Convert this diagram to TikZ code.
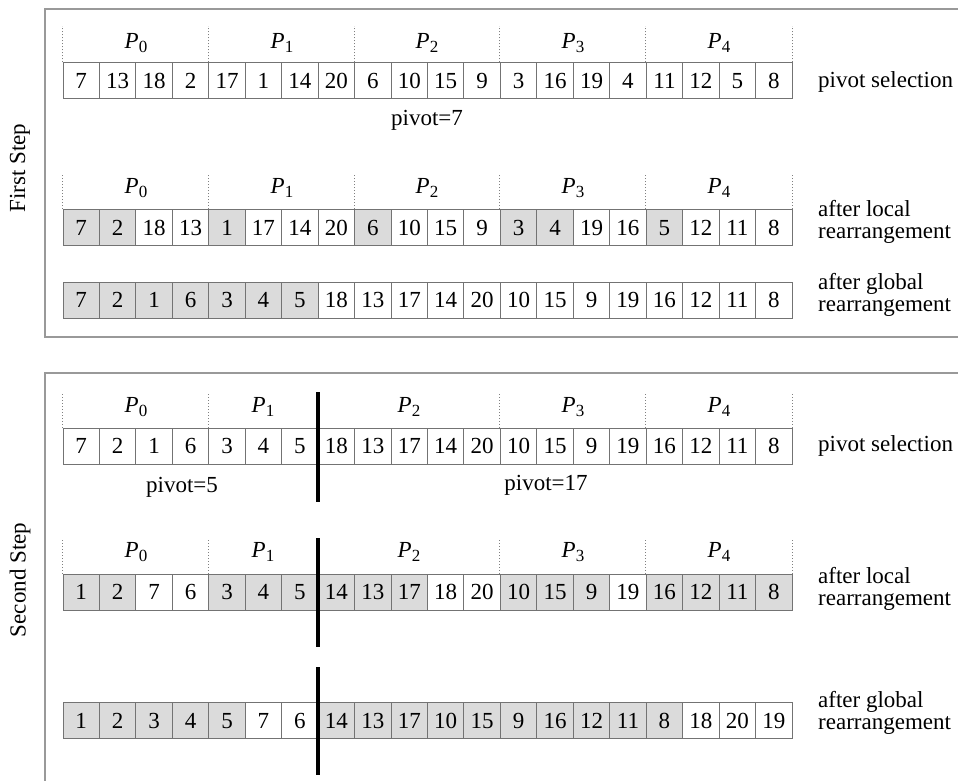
\documentclass[tikz,border=0pt]{standalone}
\usepackage{fontspec}
\setmainfont{Liberation Serif}
\colorlet{sh}{black!14}
\colorlet{cellline}{black!55}
\colorlet{framecol}{black!40}
\newcommand{\plab}[1]{\textit{P}\raisebox{-0.35ex}{\fontsize{17}{17}\selectfont #1}}
\begin{document}
\begin{tikzpicture}[x=1pt,y=-1pt,
  every node/.style={font=\fontsize{23}{20}\selectfont},
  cell/.style={draw=cellline,line width=1pt,minimum width=36.45pt,minimum height=36pt,inner sep=0pt,anchor=center,text height=15.5pt,text depth=0pt},
  frame/.style={draw=framecol,line width=2pt},
  sep/.style={draw=black!50,dotted,line width=1pt},
  cut/.style={draw=black,line width=3.6pt},
  side/.style={anchor=west,align=left,inner sep=0pt,font=\fontsize{23}{21.5}\selectfont},
  steplabel/.style={rotate=90,inner sep=0pt}]
\useasboundingbox (0,0) rectangle (958,781);
\clip (0,0) rectangle (958,781);
\fill[white] (0,0) rectangle (958,781);
% frames
\draw[frame] (45,9) rectangle (975,337);
\draw[frame] (45,373) rectangle (975,800);
\node[steplabel] (fs) at (20,168) {First Step};
\node[steplabel] (ss) at (20,580) {Second Step};
% ---------- rows ----------
% top row 1
\foreach \v/\s [count=\i from 0] in {7/white,13/white,18/white,2/white,17/white,1/white,14/white,20/white,6/white,10/white,15/white,9/white,3/white,16/white,19/white,4/white,11/white,12/white,5/white,8/white}{
  \pgfmathsetmacro\cx{63+36.45*(\i+0.5)}
  \node[cell,fill=\s] (ta-\i) at (\cx,81) {\v};}
% top row 2
\foreach \v/\s [count=\i from 0] in {7/sh,2/sh,18/white,13/white,1/sh,17/white,14/white,20/white,6/sh,10/white,15/white,9/white,3/sh,4/sh,19/white,16/white,5/sh,12/white,11/white,8/white}{
  \pgfmathsetmacro\cx{63+36.45*(\i+0.5)}
  \node[cell,fill=\s] (tb-\i) at (\cx,227.5) {\v};}
% top row 3
\foreach \v/\s [count=\i from 0] in {7/sh,2/sh,1/sh,6/sh,3/sh,4/sh,5/sh,18/white,13/white,17/white,14/white,20/white,10/white,15/white,9/white,19/white,16/white,12/white,11/white,8/white}{
  \pgfmathsetmacro\cx{63+36.45*(\i+0.5)}
  \node[cell,fill=\s] (tc-\i) at (\cx,300) {\v};}
% bottom row 1
\foreach \v/\s [count=\i from 0] in {7/white,2/white,1/white,6/white,3/white,4/white,5/white,18/white,13/white,17/white,14/white,20/white,10/white,15/white,9/white,19/white,16/white,12/white,11/white,8/white}{
  \pgfmathsetmacro\cx{63+36.45*(\i+0.5)}
  \node[cell,fill=\s] (ba-\i) at (\cx,446) {\v};}
% bottom row 2
\foreach \v/\s [count=\i from 0] in {1/sh,2/sh,7/white,6/white,3/sh,4/sh,5/sh,14/sh,13/sh,17/sh,18/white,20/white,10/sh,15/sh,9/sh,19/white,16/sh,12/sh,11/sh,8/sh}{
  \pgfmathsetmacro\cx{63+36.45*(\i+0.5)}
  \node[cell,fill=\s] (bb-\i) at (\cx,592) {\v};}
% bottom row 3
\foreach \v/\s [count=\i from 0] in {1/sh,2/sh,3/sh,4/sh,5/sh,7/white,6/white,14/sh,13/sh,17/sh,10/sh,15/sh,9/sh,16/sh,12/sh,11/sh,8/sh,18/white,20/white,19/white}{
  \pgfmathsetmacro\cx{63+36.45*(\i+0.5)}
  \node[cell,fill=\s] (bc-\i) at (\cx,720.5) {\v};}
% ---------- partition separators ----------
\foreach \r in {ta,tb}{
  \foreach \k in {0,4,8,12,16}{
    \draw[sep] (\r-\k.north west) -- ++(0,-36);}
  \draw[sep] (\r-19.north east) -- ++(0,-36);}
\foreach \r in {ba,bb}{
  \foreach \k in {0,4,12,16}{
    \draw[sep] (\r-\k.north west) -- ++(0,-35);}
  \draw[sep] (\r-19.north east) -- ++(0,-35);}
% ---------- processor labels ----------
\foreach \r/\y in {ta/43,tb/188}{
  \foreach \p/\x in {0/136,1/282,2/427,3/573,4/719}{
    \node (\r-p\p) at (\x,\y) {\plab{\p}};}}
\foreach \r/\y in {ba/407,bb/552}{
  \foreach \p/\x in {0/136,1/263,2/409,3/573,4/719}{
    \node (\r-p\p) at (\x,\y) {\plab{\p}};}}
% ---------- pivots ----------
\node (pv7) at (427,120) {pivot=7};
\node (pv5) at (182,487) {pivot=5};
\node (pv17) at (546,485) {pivot=17};
% ---------- side labels ----------
\node[side] (la) at (818,82) {pivot selection};
\node[side] (lb) at (818,222) {after local\\rearrangement};
\node[side] (lc) at (818,295) {after global\\rearrangement};
\node[side] (ld) at (818,446) {pivot selection};
\node[side] (le) at (818,589) {after local\\rearrangement};
\node[side] (lf) at (818,713) {after global\\rearrangement};
% ---------- split line ----------
\coordinate (s1a) at (318,392); \coordinate (s1b) at (318,502);
\coordinate (s2a) at (318,538); \coordinate (s2b) at (318,647);
\coordinate (s3a) at (318,667); \coordinate (s3b) at (318,775);
\draw[cut] (s1a) -- (s1b);
\draw[cut] (s2a) -- (s2b);
\draw[cut] (s3a) -- (s3b);
\end{tikzpicture}
\end{document}
